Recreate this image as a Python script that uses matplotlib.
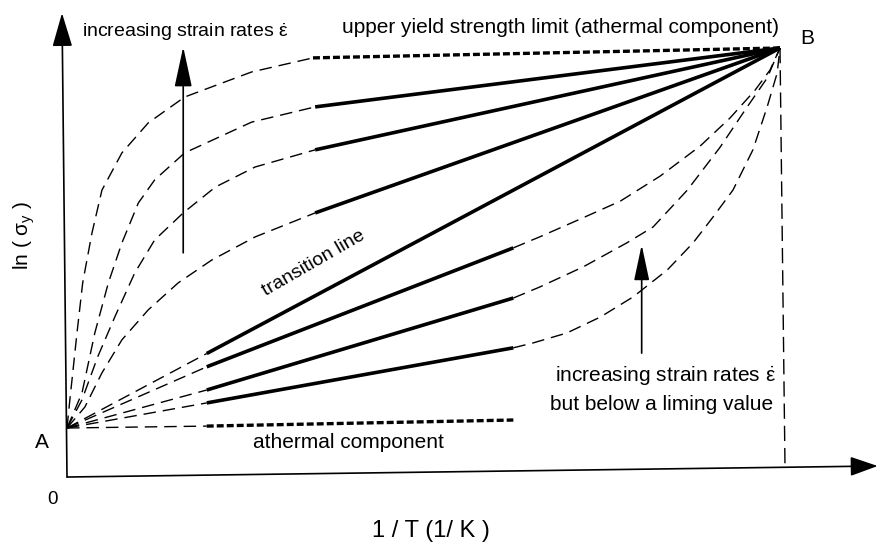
import matplotlib.pyplot as plt

plt.rcParams['font.family'] = ['Liberation Sans', 'DejaVu Sans']
plt.rcParams['mathtext.fontset'] = 'custom'
plt.rcParams['mathtext.rm'] = 'Liberation Sans'
plt.rcParams['mathtext.it'] = 'Liberation Sans:italic'
plt.rcParams['lines.scale_dashes'] = False

# normalised coordinates: A = (0, 0) at high T, B = (1, 1) at low T
A = (0.0, 0.0)
B = (1.0, 1.0)

# high strain rates: curved branch from A up to where the linear branch starts
hi1_x = [0, 0.004, 0.014, 0.022, 0.035, 0.049, 0.077, 0.114, 0.165, 0.259, 0.345]
hi1_y = [0, 0.074, 0.25, 0.382, 0.513, 0.626, 0.724, 0.803, 0.871, 0.937, 0.974]
hi2_x = [0, 0.021, 0.039, 0.058, 0.077, 0.1, 0.123, 0.165, 0.259, 0.348]
hi2_y = [0, 0.092, 0.25, 0.382, 0.487, 0.592, 0.653, 0.724, 0.805, 0.845]
hi3_x = [0, 0.021, 0.043, 0.067, 0.095, 0.123, 0.163, 0.208, 0.264, 0.348]
hi3_y = [0, 0.074, 0.187, 0.292, 0.408, 0.495, 0.566, 0.634, 0.687, 0.732]
hi4_x = [0, 0.025, 0.049, 0.077, 0.114, 0.156, 0.203, 0.264, 0.348]
hi4_y = [0, 0.055, 0.145, 0.232, 0.311, 0.382, 0.442, 0.503, 0.566]

# low strain rates: linear branch from A, then curved branch up to B
lo_start_x = 0.196
lo_end_x = 0.626
lo_start_y = [0.161, 0.100, 0.066]
lo_end_y = [0.474, 0.342, 0.211]
lo1_x = [0.626, 0.663, 0.72, 0.776, 0.832, 0.888, 0.93, 0.965, 0.986, 1.0]
lo1_y = [0.474, 0.503, 0.55, 0.597, 0.663, 0.742, 0.816, 0.889, 0.942, 1.0]
lo2_x = [0.626, 0.663, 0.724, 0.785, 0.822, 0.87, 0.916, 0.954, 0.982, 1.0]
lo2_y = [0.342, 0.371, 0.424, 0.487, 0.529, 0.626, 0.739, 0.845, 0.921, 1.0]
lo3_x = [0.626, 0.654, 0.701, 0.748, 0.794, 0.842, 0.878, 0.906, 0.934, 0.962, 0.982, 0.996, 1.0]
lo3_y = [0.211, 0.224, 0.25, 0.292, 0.345, 0.416, 0.487, 0.555, 0.626, 0.732, 0.845, 0.934, 1.0]

# athermal levels
athermal_x = [0.196, 0.626]
athermal_y = [0.005, 0.021]
upper_x = [0.345, 1.0]
upper_y = [0.974, 1.0]

thin = dict(color='black', lw=1.0, ls=(0, (9, 5)))
thick = dict(color='black', lw=2.6, solid_capstyle='butt')
dotted = dict(color='black', lw=2.4, ls=(0, (5, 2.2)), dash_capstyle='butt')

fig = plt.figure(figsize=(8.79, 5.46), dpi=100)
ax = fig.add_axes([0, 0, 1, 1])
ax.set_xlim(-0.09397, 1.13885)
ax.set_ylim(-0.31053, 1.12632)
ax.axis('off')

# axes of the diagram
ax.annotate('', xy=(-0.007, 1.092), xytext=(0, -0.129),
            arrowprops=dict(arrowstyle='-|>,head_length=2.1,head_width=0.62',
                            mutation_scale=10, color='black', lw=1.2,
                            shrinkA=0, shrinkB=0))
ax.annotate('', xy=(1.137, -0.1), xytext=(0, -0.129),
            arrowprops=dict(arrowstyle='-|>,head_length=1.7,head_width=0.6',
                            mutation_scale=10, color='black', lw=1.2,
                            shrinkA=0, shrinkB=0))
ax.plot([1.0, 1.007], [1.0, -0.1], color='black', lw=1.0, ls=(0, (11, 5)))

# high strain rate curves
for xs, ys in [(hi1_x, hi1_y), (hi2_x, hi2_y), (hi3_x, hi3_y), (hi4_x, hi4_y)]:
    ax.plot(xs, ys, **thin)
for xs, ys in [(hi2_x, hi2_y), (hi3_x, hi3_y), (hi4_x, hi4_y)]:
    ax.plot([xs[-1], B[0]], [ys[-1], B[1]], **thick)
ax.plot(upper_x, upper_y, **dotted)

# transition line A-B
ax.plot([A[0], lo_start_x], [A[1], lo_start_x], **thin)
ax.plot([lo_start_x, B[0]], [lo_start_x, B[1]], **thick)

# low strain rate curves
for y0, y1, (xs, ys) in zip(lo_start_y, lo_end_y,
                            [(lo1_x, lo1_y), (lo2_x, lo2_y), (lo3_x, lo3_y)]):
    ax.plot([A[0], lo_start_x], [A[1], y0], **thin)
    ax.plot([lo_start_x, lo_end_x], [y0, y1], **thick)
    ax.plot(xs, ys, **thin)

ax.plot([A[0], athermal_x[0]], [A[1], athermal_y[0]], **thin)
ax.plot(athermal_x, athermal_y, **dotted)

# strain rate arrows
ax.annotate('', xy=(0.163, 1.003), xytext=(0.163, 0.461),
            arrowprops=dict(arrowstyle='-|>,head_length=2.5,head_width=0.54',
                            mutation_scale=10, color='black', lw=1.2,
                            shrinkA=0, shrinkB=0))
ax.annotate('', xy=(0.806, 0.482), xytext=(0.806, 0.197),
            arrowprops=dict(arrowstyle='-|>,head_length=2.2,head_width=0.47',
                            mutation_scale=10, color='black', lw=1.2,
                            shrinkA=0, shrinkB=0))

eps = r' $\dot{\mathrm{\varepsilon}}$'
ax.text(0.021, 1.042, 'increasing strain rates' + eps, fontsize=14, ha='left', va='center')
ax.text(0.386, 1.053, 'upper yield strength limit (athermal component)', fontsize=15,
        ha='left', va='center')
ax.text(1.038, 1.026, 'B', fontsize=15, ha='center', va='center')
ax.text(-0.035, -0.039, 'A', fontsize=15, ha='center', va='center')
ax.text(-0.021, -0.189, '0', fontsize=13.5, ha='center', va='center')
ax.text(-0.06, 0.508, r'ln ( $\mathrm{\sigma_y}$ )', fontsize=15, rotation=90,
        ha='center', va='center')
ax.text(0.346, 0.434, 'transition line', fontsize=14, rotation=30,
        ha='center', va='center')
ax.text(0.261, -0.039, 'athermal component', fontsize=15, ha='left', va='center')
ax.text(0.684, 0.137, 'increasing strain rates' + eps, fontsize=15, ha='left', va='center')
ax.text(0.677, 0.061, 'but below a liming value', fontsize=15, ha='left', va='center')
ax.text(0.428, -0.271, '1 / T (1/ K )', fontsize=17, ha='left', va='center')

fig.savefig('out.png', dpi=100)
